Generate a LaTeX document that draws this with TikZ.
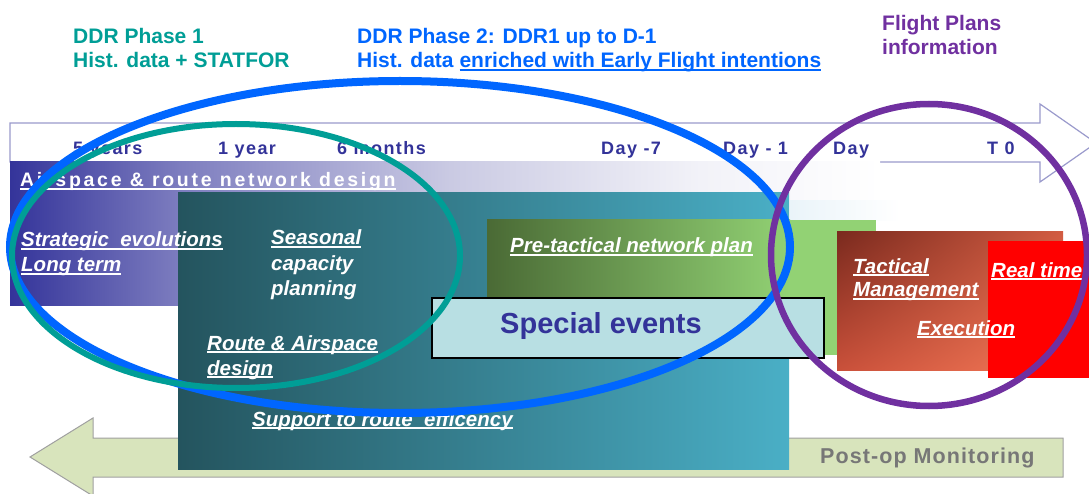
\documentclass[tikz,border=0pt]{standalone}
\usetikzlibrary{shadings}
\usepackage{fontspec}
\setmainfont{Liberation Sans}
\newfontfamily\tlfont{Liberation Sans}[LetterSpace=8]
\newfontfamily\ttlfont{Liberation Sans}[LetterSpace=14]
\newfontfamily\pofont{Liberation Sans}[LetterSpace=5]
\definecolor{tlblue}{HTML}{333399}
\definecolor{arrline}{HTML}{9A9ACC}
\definecolor{bandA}{HTML}{34349A}
\definecolor{bandB}{HTML}{7D7DBF}
\definecolor{bandC}{HTML}{CACAE3}
\definecolor{bandD}{HTML}{F2F2F8}
\definecolor{tealL}{HTML}{24545E}
\definecolor{tealR}{HTML}{4AAFC6}
\definecolor{greenL}{HTML}{4A6A35}
\definecolor{greenR}{HTML}{92D274}
\definecolor{spfill}{HTML}{B8DFE3}
\definecolor{tacUL}{HTML}{7A2A1E}
\definecolor{tacUR}{HTML}{D25C42}
\definecolor{tacLL}{HTML}{C9503A}
\definecolor{tacLR}{HTML}{F47A58}
\definecolor{postfill}{HTML}{D8E4BC}
\definecolor{postline}{HTML}{A0A0A0}
\definecolor{posttext}{HTML}{777777}
\definecolor{ddrteal}{HTML}{009E96}
\definecolor{ddrblue}{HTML}{0066FF}
\definecolor{fppurple}{HTML}{7030A0}
\definecolor{palestrip}{HTML}{EAF4F9}
\pgfdeclarehorizontalshading{bandsh}{100bp}{color(0bp)=(bandA); color(25bp)=(bandA); color(34.77bp)=(bandB); color(50.29bp)=(bandC); color(64.66bp)=(bandD); color(75bp)=(white); color(100bp)=(white)}
\newcommand\myul[1]{\setbox0\hbox{#1}\rlap{\rule[-2.6pt]{\wd0}{1.3pt}}\box0}
\begin{document}
\begin{tikzpicture}[x=1pt,y=-1pt,
  every node/.style={inner sep=0pt, anchor=base west},
  wt/.style={text=white, font=\fontsize{20.5}{24}\selectfont\bfseries\itshape},
  tl/.style={text=tlblue, font=\tlfont\fontsize{18}{20}\selectfont\bfseries},
  hdr/.style={font=\fontsize{21}{24}\selectfont\bfseries},
  blockarrow/.style={line width=1.2pt, line join=miter},
  ring/.style={line width=6.5pt}]
\useasboundingbox (0,0) rectangle (1089,494);
\clip (0,0) rectangle (1089,494);
\fill[white] (0,0) rectangle (1089,494);

% time line arrow
\draw[blockarrow, draw=arrline, fill=white] (10,123) -- (1040,123) -- (1040,104) -- (1096,143) -- (1040,182) -- (1040,162) -- (10,162) -- cycle;

% post-op arrow
\draw[blockarrow, line width=1pt, draw=postline, fill=postfill] (1063,438) -- (93,438) -- (93,418) -- (30,457) -- (93,496) -- (93,477) -- (1063,477) -- cycle;

% airspace band
\shade[shading=bandsh] (10,162) rectangle (880,305);
\shade[left color=palestrip, right color=white] (790,201) rectangle (900,221);

% boxes
\shade[left color=tealL, right color=tealR] (178,193) rectangle (789,469);
\shade[left color=greenL, right color=greenR] (487,220) -- (790,220) -- (790,355) -- (487,355) -- cycle;
\fill[greenR] (789,220) rectangle (876,355);
\draw[fill=spfill, line width=1.2pt] (432,298) rectangle (824,358);
\shade[upper left=tacUL, upper right=tacUR, lower left=tacLL, lower right=tacLR] (837,232) rectangle (1063,370);
\fill[red] (988,241) rectangle (1089,378);

% timeline labels
\node[tl] (y5) at (73,155) {5 years};
\node[tl] (y1) at (218,155) {1 year};
\node[tl] (m6) at (337,155) {6 months};
\node[tl] (d7) at (601,155) {Day -7};
\node[tl] (d1) at (723,155) {Day - 1};
\node[tl] (dd) at (833,155) {Day};
\node[tl] (t0) at (987,155) {T 0};

% header texts
\node[hdr, text=ddrteal] (p1a) at (73,44) {DDR Phase 1};
\node[hdr, text=ddrteal] (p1b) at (73,68) {Hist. data + STATFOR};
\node[hdr, text=ddrblue] (p2a) at (357,44) {DDR Phase 2: DDR1 up to D-1};
\node[hdr, text=ddrblue] (p2b) at (357,68) {Hist. data \myul{enriched with Early Flight intentions}};
\node[hdr, text=fppurple] (fpa) at (882,31) {Flight Plans};
\node[hdr, text=fppurple] (fpb) at (882,55) {information};

% box texts
\node[text=white, font=\ttlfont\fontsize{19.5}{22}\selectfont\bfseries] (band) at (20,187) {\myul{Airspace \& route network design}};
\node[wt] (st1) at (21,247) {\myul{Strategic\ \ evolutions}};
\node[wt] (st2) at (21,272) {\myul{Long term}};
\node[wt] (se1) at (271,245) {\myul{Seasonal}};
\node[wt] (se2) at (271,270) {capacity};
\node[wt] (se3) at (271,295) {planning};
\node[wt] (ra1) at (207,350) {\myul{Route \& Airspace}};
\node[wt] (ra2) at (207,375) {\myul{design}};
\node[wt] (sup) at (252,426) {\myul{Support to route\ \ efficency}};
\node[wt] (pre) at (510,253) {\myul{Pre-tactical network plan}};
\node[text=tlblue, font=\fontsize{29}{32}\selectfont\bfseries] (spe) at (500,333) {Special events};
\node[wt] (ta1) at (853,273) {\myul{Tactical}};
\node[wt] (ta2) at (853,297) {\myul{Management}};
\node[wt] (exe) at (917,335) {\myul{Execution}};
\node[wt] (rt) at (991,277) {\myul{Real time}};
\node[text=posttext, font=\pofont\fontsize{21.5}{24}\selectfont\bfseries] (post) at (820,463) {Post-op Monitoring};

% rings
\draw[ring, line width=8pt, ddrblue] (400,247) ellipse [x radius=390, y radius=166];
\draw[ring, line width=6pt, ddrteal] (236,256) ellipse [x radius=224, y radius=132];
\draw[ring, fppurple] (929,255) ellipse [x radius=158, y radius=151];
\end{tikzpicture}
\end{document}
